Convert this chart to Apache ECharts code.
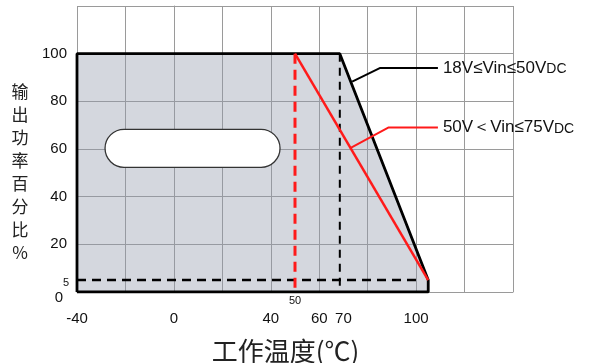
<!DOCTYPE html>
<html>
<head>
<meta charset="utf-8">
<script src="https://cdn.jsdelivr.net/npm/echarts@6/dist/echarts.min.js"></script>
<style>html,body{margin:0;padding:0;background:#fff;}#c{width:589px;height:363px;}</style>
</head>
<body>
<div id="c"></div>
<script>
// ---- data ----
const xTickLabels = [-40, 0, 40, 60, 70, 100];
const xMinorLabels = [50];
const yTickLabels = [20, 40, 60, 80, 100];
const yMinorLabels = [5];
const yZeroLabel = [0];
// derating curve 18V<=Vin<=50VDC (closed outline of shaded area)
const curveLow = [[-40, 0], [-40, 100], [68.5, 100], [105, 5], [105, 0], [-40, 0]];
// derating curve 50V<Vin<=75VDC
const curveHigh = [[50, 100], [105, 5]];
const guide50 = [[50, 100], [50, 0]];
const guide70 = [[68.5, 100], [68.5, 0]];
const guide5 = [[-40, 5], [102, 5]];
const leaderLow = [[73.6, 88.3], [85.2, 94], [109, 94]];
const leaderHigh = [[73, 60.5], [88.5, 69], [109, 69]];
const labelLow = ['18V≤Vin≤50V', 'DC'];
const labelHigh = ['50V＜Vin≤75V', 'DC'];
const blankBoxCenter = [[7.7, 60.3]];
const xTitle = '工作温度(℃)';
const yTitle = ['输', '出', '功', '率', '百', '分', '比', '%'];

const chart = echarts.init(document.getElementById('c'), null, {renderer: 'canvas'});
const FONT = 'Liberation Sans, Arial, sans-serif';
const gridColor = '#9a9a9a';

function labelAxisX(values, size, margin) {
  return {
    type: 'value', min: -40, max: 140, interval: 20, position: 'bottom', offset: 0,
    axisLine: {show: false}, axisTick: {show: false}, splitLine: {show: false},
    axisLabel: {show: true, customValues: values, margin: margin, fontSize: size, fontFamily: FONT, color: '#111'}
  };
}
function labelAxisY(values, size, margin, extra) {
  return {
    type: 'value', min: 0, max: 120, interval: 20, position: 'left', offset: 0,
    axisLine: {show: false}, axisTick: {show: false}, splitLine: {show: false},
    axisLabel: Object.assign({show: true, customValues: values, margin: margin, fontSize: size, fontFamily: FONT, color: '#111'}, extra || {})
  };
}
function lineSeries(data, color, width, type, z) {
  return {
    type: 'line', data: data, symbol: 'none', silent: true, animation: false, z: z || 3,
    lineStyle: {color: color, width: width, type: type || 'solid'}
  };
}
function leaderSeries(data, color, parts) {
  const s = lineSeries(data, color, 2, 'solid', 4);
  s.clip = false;
  s.endLabel = {
    show: true, distance: 5,
    formatter: '{a|' + parts[0] + '}{b|' + parts[1] + '}',
    rich: {
      a: {fontSize: 17, fontFamily: FONT, color: '#111', verticalAlign: 'bottom'},
      b: {fontSize: 14, fontFamily: FONT, color: '#111', verticalAlign: 'bottom'}
    }
  };
  return s;
}

const option = {
  backgroundColor: '#fff',
  animation: false,
  grid: {left: 77, top: 6, right: 76, bottom: 71, containLabel: false, outerBoundsMode: 'none'},
  xAxis: [
    {
      type: 'value', min: -40, max: 140, interval: 20, position: 'bottom',
      axisLine: {show: true, lineStyle: {color: gridColor, width: 1}},
      axisTick: {show: false}, axisLabel: {show: false},
      splitLine: {show: true, lineStyle: {color: gridColor, width: 1}},
      name: xTitle, nameLocation: 'middle', nameGap: 46,
      nameTextStyle: {fontSize: 26, fontFamily: 'Noto Sans CJK SC', color: '#222', padding: [0, 19, 0, 0]}
    },
    labelAxisX(xTickLabels, 15, 19),
    labelAxisX(xMinorLabels, 11, 3)
  ],
  yAxis: [
    {
      type: 'value', min: 0, max: 120, interval: 20, position: 'left',
      axisLine: {show: true, lineStyle: {color: gridColor, width: 1}},
      axisTick: {show: false}, axisLabel: {show: false},
      splitLine: {show: true, lineStyle: {color: gridColor, width: 1}},
      name: '\n\n' + yTitle.join('\n'), nameLocation: 'middle', nameGap: 57, nameRotate: 0,
      nameTextStyle: {fontSize: 17, lineHeight: 23, fontFamily: 'Noto Sans CJK SC', color: '#222',
        align: 'center', verticalAlign: 'middle'}
    },
    labelAxisY(yTickLabels, 15, 10),
    labelAxisY(yMinorLabels, 11, 8, {formatter: v => '\n' + v, lineHeight: 6}),
    labelAxisY(yZeroLabel, 15, 14, {formatter: v => '\n' + v, lineHeight: 11})
  ],
  series: [
    Object.assign(lineSeries(curveLow, '#000', 2.8, 'solid', 2), {
      areaStyle: {color: 'rgba(148,155,172,0.4)', opacity: 1}
    }),
    lineSeries(guide5, '#000', 2.5, [9, 6], 3),
    lineSeries(guide70, '#000', 2, [8, 6], 3),
    lineSeries(guide50, '#ff1a1a', 3, [10, 6], 3),
    lineSeries(curveHigh, '#ff1a1a', 2.5, 'solid', 4),
    leaderSeries(leaderLow, '#000', labelLow),
    leaderSeries(leaderHigh, '#ff1a1a', labelHigh),
    {
      type: 'custom', data: blankBoxCenter, silent: true, z: 5, animation: false,
      renderItem: function (params, api) {
        const c = api.coord([api.value(0), api.value(1)]);
        return {
          type: 'rect',
          shape: {x: c[0] - 87.5, y: c[1] - 19, width: 175, height: 38, r: 19},
          style: {fill: '#fff', stroke: '#333', lineWidth: 1.3}
        };
      }
    }
  ]
};
chart.setOption(option);
</script>
</body>
</html>
